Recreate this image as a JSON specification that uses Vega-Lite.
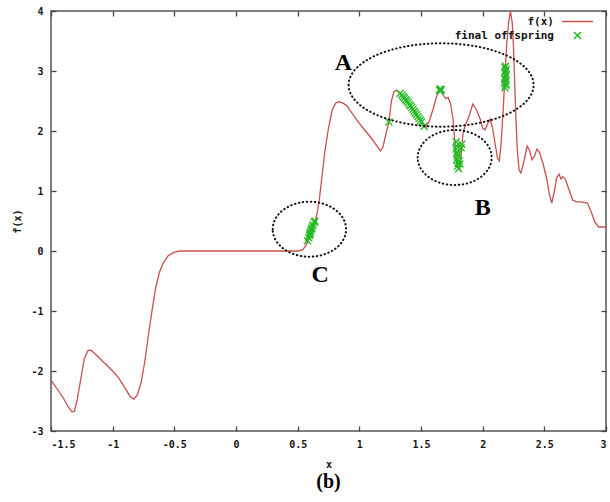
{
  "$schema": "https://vega.github.io/schema/vega-lite/v6.json",
  "width": 555,
  "height": 420,
  "autosize": "none",
  "padding": {"left": 51, "top": 11, "right": 4, "bottom": 71},
  "background": "white",
  "config": {
    "view": {"stroke": "#555555", "strokeWidth": 1.5},
    "font": "DejaVu Sans Mono",
    "axis": {
      "domain": false,
      "grid": false,
      "tickColor": "#444444",
      "tickWidth": 1.3,
      "tickSize": -5,
      "labelFont": "DejaVu Sans Mono",
      "labelFontSize": 10,
      "labelFontWeight": "bold",
      "labelColor": "#111111",
      "titleFont": "DejaVu Sans Mono",
      "titleFontSize": 10,
      "titleFontWeight": "bold",
      "titleColor": "#111111"
    },
    "legend": {
      "orient": "none",
      "legendX": 521,
      "legendY": 5,
      "padding": 0,
      "title": null,
      "labelAlign": "right",
      "labelOffset": -29,
      "labelFont": "DejaVu Sans Mono",
      "labelFontSize": 11,
      "labelFontWeight": "bold",
      "labelColor": "#111111",
      "symbolSize": 49,
      "symbolStrokeWidth": 1.5,
      "symbolFillColor": "transparent",
      "rowPadding": 2
    }
  },
  "title": {
    "text": "(b)",
    "orient": "bottom",
    "anchor": "middle",
    "font": "Liberation Serif",
    "fontSize": 20,
    "fontWeight": "bold",
    "color": "#000000",
    "offset": 3
  },
  "datasets": {
    "curve": [
      {"x": -1.5, "y": -2.15}, {"x": -1.45, "y": -2.3}, {"x": -1.4, "y": -2.45}, {"x": -1.36, "y": -2.6},
      {"x": -1.33, "y": -2.68}, {"x": -1.31, "y": -2.67}, {"x": -1.29, "y": -2.5}, {"x": -1.26, "y": -2.15},
      {"x": -1.23, "y": -1.8}, {"x": -1.2, "y": -1.66}, {"x": -1.18, "y": -1.65}, {"x": -1.15, "y": -1.7},
      {"x": -1.1, "y": -1.8}, {"x": -1.0, "y": -2.0}, {"x": -0.95, "y": -2.12}, {"x": -0.9, "y": -2.28},
      {"x": -0.86, "y": -2.42}, {"x": -0.83, "y": -2.47}, {"x": -0.8, "y": -2.4}, {"x": -0.77, "y": -2.2},
      {"x": -0.74, "y": -1.85}, {"x": -0.71, "y": -1.4}, {"x": -0.68, "y": -0.98}, {"x": -0.65, "y": -0.6},
      {"x": -0.62, "y": -0.35}, {"x": -0.59, "y": -0.2}, {"x": -0.55, "y": -0.08}, {"x": -0.5, "y": -0.02},
      {"x": -0.45, "y": 0}, {"x": 0.0, "y": 0}, {"x": 0.5, "y": 0}, {"x": 0.54, "y": 0.02},
      {"x": 0.57, "y": 0.1}, {"x": 0.6, "y": 0.25}, {"x": 0.63, "y": 0.42}, {"x": 0.655, "y": 0.6},
      {"x": 0.675, "y": 0.85}, {"x": 0.695, "y": 1.2}, {"x": 0.72, "y": 1.65}, {"x": 0.75, "y": 2.05},
      {"x": 0.78, "y": 2.35}, {"x": 0.81, "y": 2.47}, {"x": 0.84, "y": 2.49}, {"x": 0.87, "y": 2.46},
      {"x": 0.9, "y": 2.42}, {"x": 0.94, "y": 2.3}, {"x": 0.98, "y": 2.18}, {"x": 1.03, "y": 2.05},
      {"x": 1.09, "y": 1.9}, {"x": 1.14, "y": 1.76}, {"x": 1.17, "y": 1.67}, {"x": 1.19, "y": 1.72},
      {"x": 1.21, "y": 1.9}, {"x": 1.24, "y": 2.15}, {"x": 1.26, "y": 2.5}, {"x": 1.28, "y": 2.65},
      {"x": 1.3, "y": 2.68}, {"x": 1.33, "y": 2.63}, {"x": 1.37, "y": 2.52}, {"x": 1.41, "y": 2.42},
      {"x": 1.45, "y": 2.3}, {"x": 1.49, "y": 2.18}, {"x": 1.52, "y": 2.08}, {"x": 1.54, "y": 2.06},
      {"x": 1.57, "y": 2.18}, {"x": 1.6, "y": 2.38}, {"x": 1.63, "y": 2.6}, {"x": 1.655, "y": 2.68},
      {"x": 1.68, "y": 2.6}, {"x": 1.7, "y": 2.54}, {"x": 1.72, "y": 2.56}, {"x": 1.74, "y": 2.45},
      {"x": 1.76, "y": 2.2}, {"x": 1.775, "y": 1.8}, {"x": 1.79, "y": 1.42}, {"x": 1.81, "y": 1.38},
      {"x": 1.825, "y": 1.6}, {"x": 1.84, "y": 1.95}, {"x": 1.86, "y": 2.1}, {"x": 1.89, "y": 2.25},
      {"x": 1.92, "y": 2.45}, {"x": 1.95, "y": 2.35}, {"x": 1.98, "y": 2.2}, {"x": 2.0, "y": 2.05},
      {"x": 2.02, "y": 2.02}, {"x": 2.04, "y": 2.12}, {"x": 2.06, "y": 2.2}, {"x": 2.08, "y": 2.05},
      {"x": 2.1, "y": 1.8}, {"x": 2.12, "y": 1.55}, {"x": 2.135, "y": 1.5}, {"x": 2.15, "y": 1.8},
      {"x": 2.165, "y": 2.3}, {"x": 2.18, "y": 2.9}, {"x": 2.195, "y": 3.45}, {"x": 2.21, "y": 3.8},
      {"x": 2.225, "y": 4.0}, {"x": 2.24, "y": 3.8}, {"x": 2.25, "y": 3.4}, {"x": 2.26, "y": 2.8},
      {"x": 2.27, "y": 2.2}, {"x": 2.28, "y": 1.7}, {"x": 2.295, "y": 1.35}, {"x": 2.31, "y": 1.3},
      {"x": 2.33, "y": 1.45}, {"x": 2.36, "y": 1.75}, {"x": 2.38, "y": 1.68}, {"x": 2.4, "y": 1.52},
      {"x": 2.42, "y": 1.58}, {"x": 2.44, "y": 1.7}, {"x": 2.46, "y": 1.65}, {"x": 2.49, "y": 1.45},
      {"x": 2.52, "y": 1.2}, {"x": 2.54, "y": 0.95}, {"x": 2.56, "y": 0.8}, {"x": 2.58, "y": 0.98},
      {"x": 2.6, "y": 1.22}, {"x": 2.62, "y": 1.28}, {"x": 2.635, "y": 1.2}, {"x": 2.65, "y": 1.24},
      {"x": 2.67, "y": 1.2}, {"x": 2.7, "y": 1.02}, {"x": 2.73, "y": 0.85}, {"x": 2.76, "y": 0.82},
      {"x": 2.8, "y": 0.82}, {"x": 2.85, "y": 0.8}, {"x": 2.88, "y": 0.65}, {"x": 2.91, "y": 0.48},
      {"x": 2.94, "y": 0.4}, {"x": 3.0, "y": 0.4}
    ],
    "offspring": [
      {"x": 0.58, "y": 0.17}, {"x": 0.59, "y": 0.22}, {"x": 0.595, "y": 0.26}, {"x": 0.6, "y": 0.3},
      {"x": 0.605, "y": 0.33}, {"x": 0.61, "y": 0.36}, {"x": 0.615, "y": 0.38}, {"x": 0.62, "y": 0.41},
      {"x": 0.625, "y": 0.44}, {"x": 0.635, "y": 0.48}, {"x": 0.64, "y": 0.5}, {"x": 0.6, "y": 0.28},
      {"x": 1.24, "y": 2.15}, {"x": 1.33, "y": 2.63}, {"x": 1.345, "y": 2.6}, {"x": 1.355, "y": 2.57},
      {"x": 1.365, "y": 2.55}, {"x": 1.375, "y": 2.52}, {"x": 1.385, "y": 2.5}, {"x": 1.395, "y": 2.47},
      {"x": 1.405, "y": 2.44}, {"x": 1.415, "y": 2.42}, {"x": 1.425, "y": 2.39}, {"x": 1.435, "y": 2.36},
      {"x": 1.445, "y": 2.33}, {"x": 1.455, "y": 2.3}, {"x": 1.465, "y": 2.27}, {"x": 1.475, "y": 2.24},
      {"x": 1.485, "y": 2.21}, {"x": 1.495, "y": 2.18}, {"x": 1.505, "y": 2.15}, {"x": 1.525, "y": 2.08},
      {"x": 1.65, "y": 2.68}, {"x": 1.655, "y": 2.7}, {"x": 1.66, "y": 2.67}, {"x": 1.665, "y": 2.69},
      {"x": 2.18, "y": 2.72}, {"x": 2.185, "y": 2.76}, {"x": 2.18, "y": 2.8}, {"x": 2.19, "y": 2.84},
      {"x": 2.18, "y": 2.88}, {"x": 2.185, "y": 2.91}, {"x": 2.19, "y": 2.94}, {"x": 2.18, "y": 2.97},
      {"x": 2.185, "y": 3.0}, {"x": 2.19, "y": 3.03}, {"x": 2.18, "y": 3.06}, {"x": 2.185, "y": 3.08},
      {"x": 2.19, "y": 2.78}, {"x": 2.18, "y": 2.86},
      {"x": 1.785, "y": 1.82}, {"x": 1.79, "y": 1.75}, {"x": 1.785, "y": 1.7}, {"x": 1.79, "y": 1.64},
      {"x": 1.795, "y": 1.58}, {"x": 1.79, "y": 1.52}, {"x": 1.8, "y": 1.46}, {"x": 1.795, "y": 1.41},
      {"x": 1.805, "y": 1.37}, {"x": 1.81, "y": 1.5}, {"x": 1.83, "y": 1.78}, {"x": 1.825, "y": 1.72},
      {"x": 1.8, "y": 1.62}, {"x": 1.815, "y": 1.45}
    ],
    "labels": [
      {"label": "A", "x": 0.871, "y": 3.128},
      {"label": "B", "x": 2.001, "y": 0.712},
      {"label": "C", "x": 0.682, "y": -0.4}
    ]
  },
  "layer": [
    {
      "data": {"name": "curve"},
      "transform": [{"calculate": "'f(x)'", "as": "series"}],
      "mark": {"type": "line", "strokeWidth": 1.3, "clip": true},
      "encoding": {
        "x": {
          "field": "x", "type": "quantitative",
          "scale": {"domain": [-1.5, 3], "nice": false, "zero": false},
          "axis": {"orient": "bottom", "values": [-1.5, -1, -0.5, 0, 0.5, 1, 1.5, 2, 2.5, 3], "labelExpr": "'' + datum.value", "labelPadding": 13, "title": "x", "titlePadding": 10}
        },
        "y": {
          "field": "y", "type": "quantitative",
          "scale": {"domain": [-3, 4], "nice": false, "zero": false},
          "axis": {"orient": "left", "values": [-3, -2, -1, 0, 1, 2, 3, 4], "labelExpr": "'' + datum.value", "labelPadding": 13, "title": "f(x)", "titlePadding": 8}
        },
        "color": {
          "field": "series", "type": "nominal",
          "scale": {"domain": ["f(x)", "final offspring"], "range": ["#c8504f", "#22bb22"]}
        }
      }
    },
    {
      "data": {"name": "offspring"},
      "transform": [{"calculate": "'final offspring'", "as": "series"}],
      "mark": {"type": "point", "filled": false, "size": 49, "strokeWidth": 1.3, "opacity": 1},
      "encoding": {
        "x": {"field": "x", "type": "quantitative", "axis": null},
        "y": {"field": "y", "type": "quantitative", "axis": null},
        "color": {"field": "series", "type": "nominal"},
        "shape": {
          "field": "series", "type": "nominal",
          "scale": {"domain": ["f(x)", "final offspring"], "range": ["M-4.4,0H4.4", "M-1,-1L1,1M-1,1L1,-1"]}
        }
      }
    },
    {
      "data": {"values": [{"x": 1.663, "y": 2.767}]},
      "mark": {"type": "point", "shape": "M-92.5,0A92.5,41.7,0,1,1,92.5,0A92.5,41.7,0,1,1,-92.5,0Z", "size": 4, "filled": false, "stroke": "#111111", "strokeWidth": 2, "strokeDash": [0.5, 3.5], "strokeCap": "round", "opacity": 1},
      "encoding": {
        "x": {"field": "x", "type": "quantitative", "axis": null},
        "y": {"field": "y", "type": "quantitative", "axis": null}
      }
    },
    {
      "data": {"values": [{"x": 1.773, "y": 1.558}]},
      "mark": {"type": "point", "shape": "M-37,0A37,27.5,0,1,1,37,0A37,27.5,0,1,1,-37,0Z", "size": 4, "filled": false, "stroke": "#111111", "strokeWidth": 2, "strokeDash": [0.5, 3.5], "strokeCap": "round", "opacity": 1},
      "encoding": {
        "x": {"field": "x", "type": "quantitative", "axis": null},
        "y": {"field": "y", "type": "quantitative", "axis": null}
      }
    },
    {
      "data": {"values": [{"x": 0.595, "y": 0.363}]},
      "mark": {"type": "point", "shape": "M-36.7,0A36.7,27.5,0,1,1,36.7,0A36.7,27.5,0,1,1,-36.7,0Z", "size": 4, "filled": false, "stroke": "#111111", "strokeWidth": 2, "strokeDash": [0.5, 3.5], "strokeCap": "round", "opacity": 1},
      "encoding": {
        "x": {"field": "x", "type": "quantitative", "axis": null},
        "y": {"field": "y", "type": "quantitative", "axis": null}
      }
    },
    {
      "data": {"name": "labels"},
      "mark": {"type": "text", "font": "Liberation Serif", "fontSize": 24, "fontWeight": "bold", "color": "#000000", "align": "center", "baseline": "middle"},
      "encoding": {
        "x": {
          "field": "x", "type": "quantitative",
          "axis": {"orient": "top", "values": [-1.5, -1, -0.5, 0, 0.5, 1, 1.5, 2, 2.5, 3], "labels": false, "title": null}
        },
        "y": {
          "field": "y", "type": "quantitative",
          "axis": {"orient": "right", "values": [-3, -2, -1, 0, 1, 2, 3, 4], "labels": false, "title": null}
        },
        "text": {"field": "label"}
      }
    }
  ]
}
